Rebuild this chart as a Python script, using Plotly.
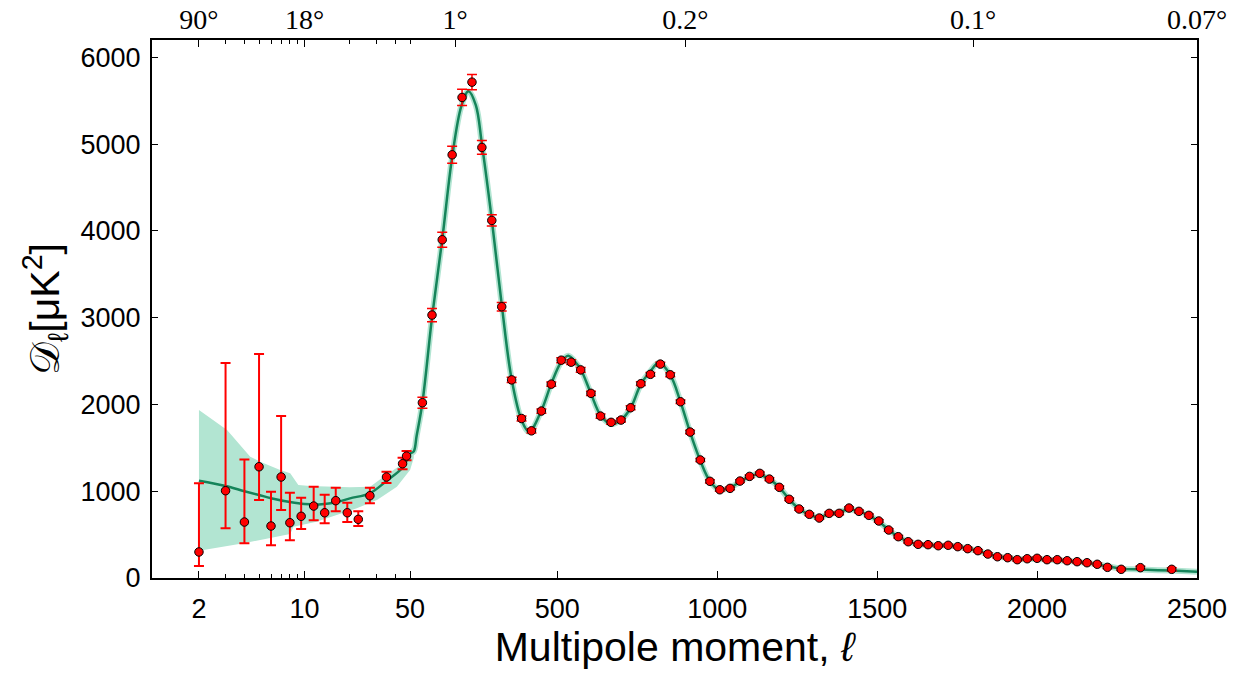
import numpy as np
import plotly.graph_objects as go

# ---------------- data ----------------
# low-ell points (asymmetric errors)
low_ell = [2, 3, 4, 5, 6, 7, 8, 9.5, 11.5, 13.6, 16.1, 19.2, 22.7, 27.1, 34.9, 44.6, 47.4]
low_D   = [300, 1006, 645, 1282, 599, 1164, 637, 711, 829, 752, 891, 752, 676, 948, 1164, 1317, 1405]
low_hi  = [1091, 2477, 1367, 2580, 994, 1866, 983, 925, 1052, 960, 1040, 868, 768, 1040, 1225, 1386, 1463]
low_lo  = [138, 573, 400, 899, 377, 783, 434, 565, 665, 630, 768, 645, 599, 860, 1094, 1252, 1356]

# high-ell binned points (symmetric errors)
high_ell = [78, 108, 140, 171, 202, 233, 264, 295, 326, 357, 388, 419, 450, 481, 512, 543, 573,
            605, 635, 668, 699, 729, 761, 791, 822, 853, 885, 915, 947, 977, 1008, 1040, 1071,
            1101, 1133, 1163, 1194, 1225, 1256, 1288, 1319, 1350, 1381, 1412, 1443, 1474, 1505,
            1536, 1566, 1597, 1628, 1659, 1691, 1722, 1752, 1783, 1815, 1846, 1876, 1908, 1938,
            1969, 2000, 2031, 2063, 2094, 2125, 2156, 2188, 2220, 2263, 2323, 2421]
high_D = [2020, 3030, 3898, 4877, 5538, 5714, 4962, 4121, 3126, 2283, 1838, 1696, 1924, 2234, 2510,
          2487, 2398, 2128, 1866, 1794, 1820, 1962, 2239, 2347, 2465, 2342, 2031, 1682, 1360, 1114,
          1017, 1033, 1117, 1171, 1206, 1140, 1045, 907, 795, 734, 691, 745, 745, 806, 768, 722,
          657, 553, 476, 418, 388, 384, 372, 377, 361, 338, 315, 276, 245, 234, 211, 222, 227,
          211, 211, 199, 188, 176, 158, 123, 100, 119, 100]
high_err = [63, 77, 86, 98, 94, 88, 80, 65, 48, 31, 28, 25, 25, 25, 28, 28, 28, 25, 25, 22, 22, 22,
            22, 22, 22, 22, 20, 20, 18, 18, 16, 16, 16, 16, 16, 16, 15, 15, 15, 15, 15, 15, 15,
            15, 15, 15, 15, 15, 15, 14, 14, 14, 14, 14, 14, 14, 14, 14, 14, 14, 14, 14, 14, 14,
            14, 14, 14, 14, 14, 14, 15, 16, 18]

# best-fit model curve
curve_ell = [2, 3, 4, 5, 6, 8, 10, 13, 16, 20, 27, 35, 45, 50,
             51, 60, 78, 108, 140, 171, 200, 222, 245, 264, 295, 326, 357, 388, 412, 450, 481,
             512, 534, 560, 574, 605, 636, 668, 700, 730, 760, 790, 818, 853, 885, 915, 946,
             977, 1005, 1040, 1071, 1101, 1128, 1162, 1194, 1225, 1256, 1288, 1315, 1350, 1381,
             1410, 1443, 1474, 1505, 1536, 1566, 1597, 1628, 1660, 1720, 1752, 1783, 1815, 1846,
             1876, 1908, 1938, 1970, 2000, 2031, 2063, 2094, 2125, 2156, 2188, 2220, 2262, 2323,
             2421, 2500]
curve_D = [1121, 1060, 1000, 956, 920, 876, 853, 850, 870, 918, 976, 1120, 1280, 1430,
           1460, 1640, 2020, 3000, 3900, 4850, 5440, 5610, 5450, 5000, 4130, 3150, 2290, 1820,
           1685, 1930, 2240, 2490, 2560, 2470, 2400, 2125, 1870, 1775, 1825, 1965, 2225, 2380,
           2480, 2340, 2030, 1680, 1360, 1115, 1020, 1040, 1110, 1170, 1195, 1140, 1045, 905,
           795, 730, 700, 735, 760, 790, 770, 720, 650, 555, 475, 420, 390, 380, 372, 362, 338,
           312, 278, 248, 232, 218, 218, 220, 212, 205, 196, 186, 172, 156, 135, 108, 97, 85, 73]

# cosmic-variance band at low ell
band_top_ell = [2, 3.07, 4.37, 5.09, 6.9, 8.04, 9.1, 10.9, 20, 27.2, 33.4, 45.2, 50, 51]
band_top_D   = [1935, 1705, 1398, 1340, 1244, 1206, 1071, 1060, 1045, 1052, 1167, 1321, 1475, 1532]
band_bot_ell = [2, 3.95, 8.04, 8.46, 12, 16.4, 22.2, 30.2, 40.9, 50, 51]
band_bot_D   = [314, 400, 507, 591, 649, 726, 803, 899, 1052, 1244, 1382]

bottom_ticks = [2, 10, 50, 500, 1000, 1500, 2000, 2500]
bottom_labels = ["2", "10", "50", "500", "1000", "1500", "2000", "2500"]
minor_ticks = [3, 4, 5, 6, 7, 8, 9, 20, 30, 40]
top_ticks = [2, 10, 180, 900, 1800, 2500]
top_labels = ["90°", "18°", "1°", "0.2°", "0.1°", "0.07°"]
top_minor = [3, 4, 5, 6, 7, 8, 9, 20, 30, 40, 50]
y_ticks = [0, 1000, 2000, 3000, 4000, 5000, 6000]


# hybrid axis scale: logarithmic below ell=50, linear above
def to_x(ell):
    ell = np.asarray(ell, dtype=float)
    return np.where(ell <= 50, 304.3 + 151.1 * np.log10(ell / 10.0), 557.3 + 0.32 * (ell - 500.0))


XR = [151.7, 1197.3]
BAND = "#b2e5d2"
LINE = "#15845a"
SANS = "Liberation Sans, DejaVu Sans, sans-serif"
SERIF = "Liberation Serif, DejaVu Serif, serif"

fig = go.Figure()

# band polygon
bx = np.concatenate([to_x(band_top_ell), to_x(band_bot_ell)[::-1]])
by = np.concatenate([band_top_D, band_bot_D[::-1]])
fig.add_trace(go.Scatter(x=bx, y=by, fill="toself", fillcolor=BAND, mode="lines",
                         line=dict(width=0, color=BAND), hoverinfo="skip"))

# thin band along the model at high ell
fig.add_trace(go.Scatter(x=to_x(curve_ell), y=curve_D, mode="lines",
                         line=dict(color=BAND, width=6, shape="spline"), hoverinfo="skip"))
# model
fig.add_trace(go.Scatter(x=to_x(curve_ell), y=curve_D, mode="lines",
                         line=dict(color=LINE, width=2.5, shape="spline")))

# low-ell data
low_plus = [h - d for h, d in zip(low_hi, low_D)]
low_minus = [d - l for d, l in zip(low_D, low_lo)]
fig.add_trace(go.Scatter(
    x=to_x(low_ell), y=low_D, mode="markers",
    marker=dict(color="#ff0000", size=8.5, line=dict(color="black", width=1)),
    error_y=dict(type="data", symmetric=False, array=low_plus, arrayminus=low_minus,
                 color="#ff0000", thickness=2, width=5)))

# high-ell data
fig.add_trace(go.Scatter(
    x=to_x(high_ell), y=high_D, mode="markers",
    marker=dict(color="#ff0000", size=8.5, line=dict(color="black", width=1)),
    error_y=dict(type="data", array=high_err, color="#ff0000", thickness=1.5, width=5)))

# dummy trace for the top axis
fig.add_trace(go.Scatter(x=[to_x(100)], y=[-1000], xaxis="x2", mode="markers",
                         marker=dict(opacity=0), hoverinfo="skip"))

fig.update_layout(
    width=1245, height=678,
    margin=dict(l=152, r=48, t=40, b=100),
    paper_bgcolor="white", plot_bgcolor="white",
    showlegend=False,
    font=dict(family=SANS, color="black"),
    xaxis=dict(
        range=XR, showgrid=False, zeroline=False, automargin=False,
        showline=True, linecolor="black", linewidth=2, mirror=True,
        ticks="inside", ticklen=7, tickwidth=1.3, tickcolor="black",
        tickmode="array", tickvals=to_x(bottom_ticks), ticktext=bottom_labels,
        tickfont=dict(family=SANS, size=27), ticklabelstandoff=6,
        minor=dict(tickmode="array", tickvals=to_x(minor_ticks), ticks="inside",
                   ticklen=4, tickwidth=1.2, tickcolor="black"),
        title=dict(text="Multipole moment, <i>ℓ</i>", font=dict(family=SANS, size=41),
                   standoff=8),
    ),
    xaxis2=dict(
        range=XR, overlaying="x", side="top", showgrid=False, zeroline=False,
        automargin=False,
        showline=False, ticks="inside", ticklen=7, tickwidth=1.3, tickcolor="black",
        tickmode="array", tickvals=to_x(top_ticks), ticktext=top_labels,
        tickfont=dict(family=SERIF, size=28), ticklabelstandoff=4,
        minor=dict(tickmode="array", tickvals=to_x(top_minor), ticks="inside",
                   ticklen=4, tickwidth=1.2, tickcolor="black"),
    ),
    yaxis=dict(
        range=[0, 6200], showgrid=False, zeroline=False, automargin=False,
        showline=True, linecolor="black", linewidth=2, mirror="ticks",
        ticks="inside", ticklen=6, tickwidth=1.3, tickcolor="black",
        tickmode="array", tickvals=y_ticks,
        tickfont=dict(family=SANS, size=27), ticklabelstandoff=4,
        title=dict(text="𝒟<sub>ℓ</sub>[μK<sup>2</sup>]", font=dict(family=SANS, size=41),
                   standoff=8),
    ),
)

fig.write_html("out.html")
